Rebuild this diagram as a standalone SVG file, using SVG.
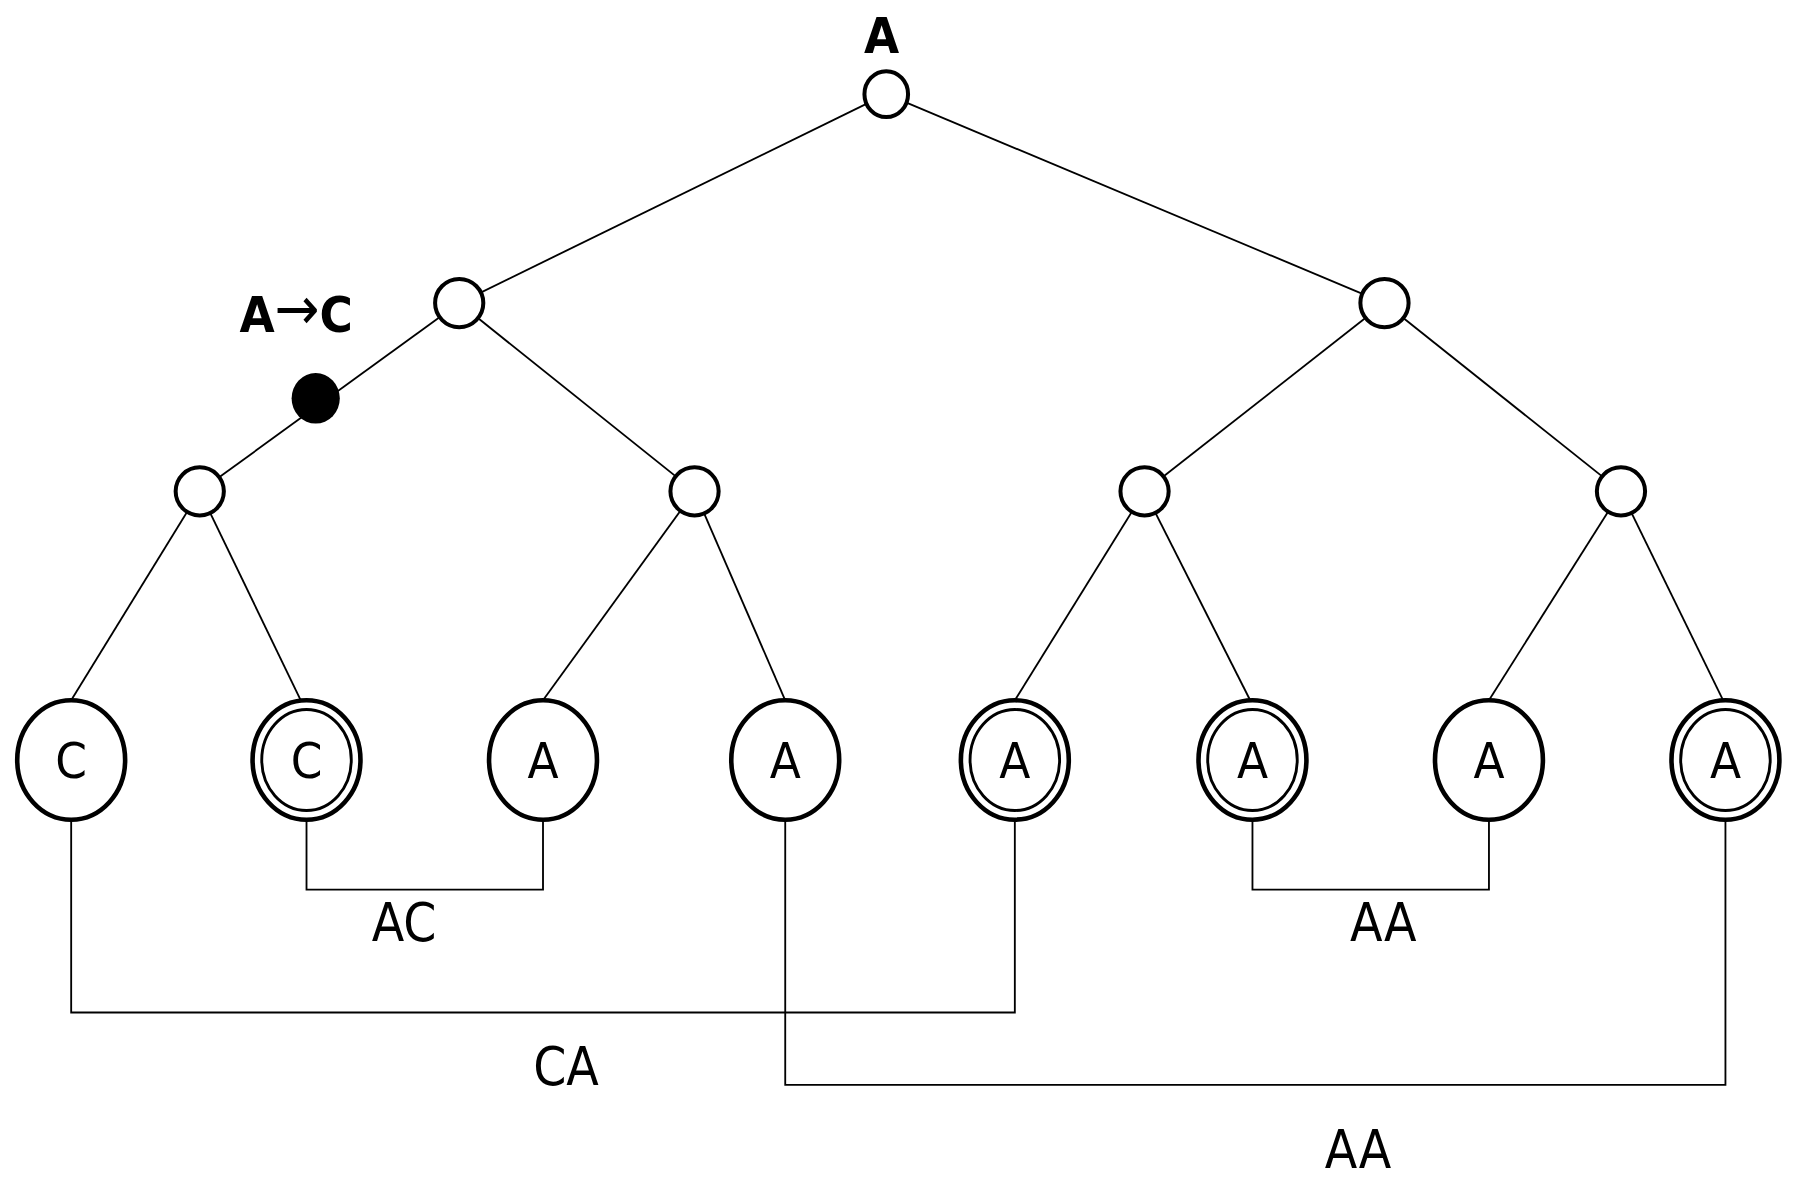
<svg xmlns="http://www.w3.org/2000/svg" width="1800" height="1178" viewBox="0 0 1800 1178">
<style>
.e{stroke:#000;stroke-width:1.6;fill:none}
.n{fill:#fff;stroke:#000;stroke-width:3.5}
.lf{fill:#fff;stroke:#000;stroke-width:4}
.in{fill:none;stroke:#000;stroke-width:2.5}
text{font-family:"DejaVu Sans Condensed","DejaVu Sans",sans-serif;fill:#000;text-anchor:middle}
.lt{font-size:44px}
.lb{font-size:46px}
.b{font-size:44px;font-weight:bold}
</style>
<rect width="1800" height="1178" fill="#fff"/>
<g transform="scale(1.148)">
<g id="connectors">
<line class="e" x1="772" y1="82" x2="400" y2="264"/>
<line class="e" x1="772" y1="82" x2="1206" y2="264"/>
<line class="e" x1="400" y1="264" x2="174" y2="428"/>
<line class="e" x1="400" y1="264" x2="605" y2="428"/>
<line class="e" x1="1206" y1="264" x2="997" y2="428"/>
<line class="e" x1="1206" y1="264" x2="1412" y2="428"/>
<line class="e" x1="174" y1="428" x2="62" y2="610"/>
<line class="e" x1="174" y1="428" x2="262" y2="610"/>
<line class="e" x1="605" y1="428" x2="473" y2="610"/>
<line class="e" x1="605" y1="428" x2="684" y2="610"/>
<line class="e" x1="997" y1="428" x2="884" y2="610"/>
<line class="e" x1="997" y1="428" x2="1089" y2="610"/>
<line class="e" x1="1412" y1="428" x2="1297" y2="610"/>
<line class="e" x1="1412" y1="428" x2="1501" y2="610"/>
<polyline class="e" points="267,714 267,775 473,775 473,714"/>
<polyline class="e" points="1091,714 1091,775 1297,775 1297,714"/>
<polyline class="e" points="62,714 62,882 884,882 884,714"/>
<polyline class="e" points="684,714 684,945 1503,945 1503,714"/>
</g>
<g id="root"><ellipse class="n" cx="772" cy="82" rx="19" ry="20"/><text class="b" x="768" y="46">A</text></g>
<g id="n1"><ellipse class="n" cx="400" cy="264" rx="21" ry="21"/></g>
<g id="n2"><ellipse class="n" cx="1206" cy="264" rx="21" ry="21"/></g>
<g id="mut"><ellipse cx="275" cy="347" rx="21" ry="22" fill="#000"/><text class="b" x="258" y="289">A<tspan font-size="52" font-weight="normal" dy="-2">→</tspan><tspan dy="2">C</tspan></text></g>
<g id="n3"><ellipse class="n" cx="174" cy="428" rx="21" ry="21"/></g>
<g id="n4"><ellipse class="n" cx="605" cy="428" rx="21" ry="21"/></g>
<g id="n5"><ellipse class="n" cx="997" cy="428" rx="21" ry="21"/></g>
<g id="n6"><ellipse class="n" cx="1412" cy="428" rx="21" ry="21"/></g>
<g id="l1"><ellipse class="lf" cx="62" cy="662" rx="47" ry="52"/><text class="lt" x="62" y="678">C</text></g>
<g id="l2"><ellipse class="lf" cx="267" cy="662" rx="47" ry="52"/><ellipse class="in" cx="267" cy="662" rx="39" ry="44"/><text class="lt" x="267" y="678">C</text></g>
<g id="l3"><ellipse class="lf" cx="473" cy="662" rx="47" ry="52"/><text class="lt" x="473" y="678">A</text></g>
<g id="l4"><ellipse class="lf" cx="684" cy="662" rx="47" ry="52"/><text class="lt" x="684" y="678">A</text></g>
<g id="l5"><ellipse class="lf" cx="884" cy="662" rx="47" ry="52"/><ellipse class="in" cx="884" cy="662" rx="39" ry="44"/><text class="lt" x="884" y="678">A</text></g>
<g id="l6"><ellipse class="lf" cx="1091" cy="662" rx="47" ry="52"/><ellipse class="in" cx="1091" cy="662" rx="39" ry="44"/><text class="lt" x="1091" y="678">A</text></g>
<g id="l7"><ellipse class="lf" cx="1297" cy="662" rx="47" ry="52"/><text class="lt" x="1297" y="678">A</text></g>
<g id="l8"><ellipse class="lf" cx="1503" cy="662" rx="47" ry="52"/><ellipse class="in" cx="1503" cy="662" rx="39" ry="44"/><text class="lt" x="1503" y="678">A</text></g>
<g id="labels">
<text class="lb" x="352" y="820">AC</text>
<text class="lb" x="1205" y="820">AA</text>
<text class="lb" x="493" y="945">CA</text>
<text class="lb" x="1183" y="1017">AA</text>
</g>
</g>
</svg>
